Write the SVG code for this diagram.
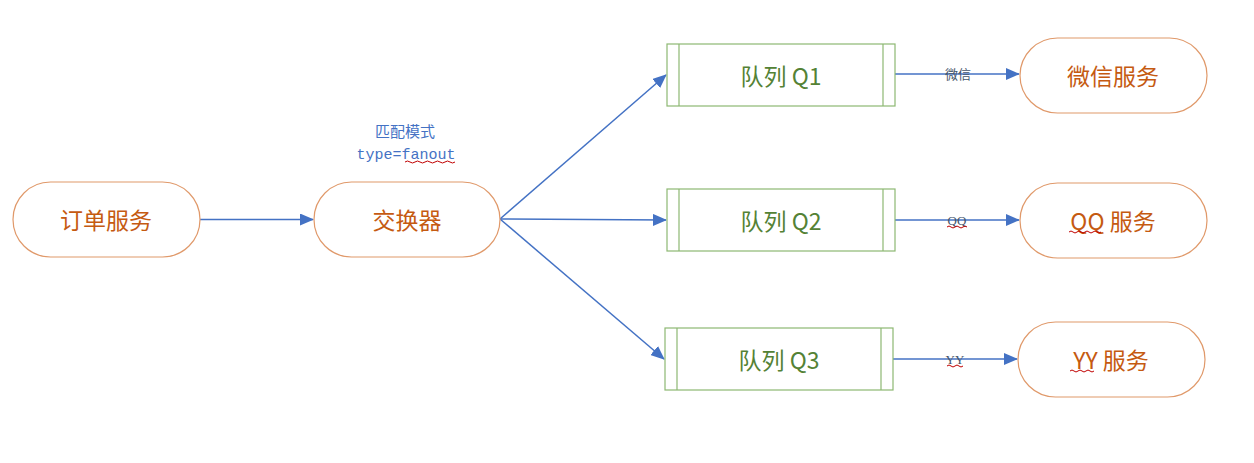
<svg xmlns="http://www.w3.org/2000/svg" width="1254" height="463" viewBox="0 0 1254 463">
<defs>
<style>
.svc{fill:#fff;stroke:#E0996A;stroke-width:1.2}
.svct{fill:#C55A11;font-family:"Noto Sans CJK SC","Noto Sans",sans-serif;font-size:23px;text-anchor:middle;dominant-baseline:central}
.q{fill:#fff;stroke:#8DB872;stroke-width:1.2}
.qt{fill:#548235;font-family:"Noto Sans CJK SC","Noto Sans",sans-serif;font-size:23px;text-anchor:middle;dominant-baseline:central}
.ln{stroke:#4472C4;stroke-width:1.5;fill:none}
.lbl{fill:#44546A;font-family:"Liberation Serif","Noto Sans CJK SC",serif;font-size:13px;text-anchor:middle;dominant-baseline:central}
.ex{fill:#4472C4;font-size:15px;text-anchor:middle}
.wave{stroke:#C00000;stroke-width:1;fill:none}
</style>
<marker id="ah" markerWidth="14" markerHeight="12" refX="13" refY="6" orient="auto" markerUnits="userSpaceOnUse">
<path d="M0,0 L14,6 L0,12 z" fill="#4472C4"/>
</marker>
</defs>
<rect width="1254" height="463" fill="#fff"/>
<g id="connectors">
<line class="ln" x1="200" y1="219.5" x2="313" y2="219.5" marker-end="url(#ah)"/>
<line class="ln" x1="500" y1="219" x2="666" y2="75" marker-end="url(#ah)"/>
<line class="ln" x1="500" y1="219" x2="666" y2="220" marker-end="url(#ah)"/>
<line class="ln" x1="500" y1="219" x2="664" y2="359" marker-end="url(#ah)"/>
<line class="ln" x1="895" y1="74" x2="1019" y2="74" marker-end="url(#ah)"/>
<line class="ln" x1="895" y1="220" x2="1019" y2="220" marker-end="url(#ah)"/>
<line class="ln" x1="893" y1="359" x2="1017" y2="359" marker-end="url(#ah)"/>
<text class="lbl" x="958" y="74">微信</text>
<text class="lbl" x="957" y="220">QQ</text>
<path class="wave" d="M947,227 q2,-2 4,0 t4,0 t4,0 t4,0 t4,0"/>
<text class="lbl" x="955" y="359">YY</text>
<path class="wave" d="M947,366 q2,-2 4,0 t4,0 t4,0 t4,0"/>
<text class="ex" x="405" y="137" font-family="'Noto Sans CJK SC',sans-serif" font-size="16">匹配模式</text>
<text class="ex" x="406" y="159" font-family="'Liberation Mono',monospace">type=fanout</text>
<path class="wave" d="M405,162 q2.5,-2 5,0 t5,0 t5,0 t5,0 t5,0 t5,0 t5,0 t5,0 t5,0 t5,0"/>
</g>
<g id="order"><rect class="svc" x="13" y="182" width="187" height="75" rx="37.5"/><text class="svct" x="106" y="219">订单服务</text></g>
<g id="exchange"><rect class="svc" x="314" y="182" width="186" height="75" rx="37.5"/><text class="svct" x="407" y="219">交换器</text></g>
<g id="q1"><rect class="q" x="667" y="44" width="228" height="62"/><line class="q" x1="679" y1="44" x2="679" y2="106"/><line class="q" x1="883" y1="44" x2="883" y2="106"/><text class="qt" x="781" y="75">队列 Q1</text></g>
<g id="q2"><rect class="q" x="667" y="189" width="228" height="62"/><line class="q" x1="679" y1="189" x2="679" y2="251"/><line class="q" x1="883" y1="189" x2="883" y2="251"/><text class="qt" x="781" y="220">队列 Q2</text></g>
<g id="q3"><rect class="q" x="665" y="328" width="228" height="62"/><line class="q" x1="677" y1="328" x2="677" y2="390"/><line class="q" x1="881" y1="328" x2="881" y2="390"/><text class="qt" x="779" y="359">队列 Q3</text></g>
<g id="wechat"><rect class="svc" x="1020" y="38" width="187" height="75" rx="37.5"/><text class="svct" x="1113" y="75">微信服务</text></g>
<g id="qq"><rect class="svc" x="1020" y="183" width="187" height="75" rx="37.5"/><text class="svct" x="1113" y="220">QQ 服务</text><path class="wave" d="M1069,232 q2,-2 4,0 t4,0 t4,0 t4,0 t4,0 t4,0 t4,0 t4,0"/></g>
<g id="yy"><rect class="svc" x="1018" y="322" width="187" height="75" rx="37.5"/><text class="svct" x="1111" y="359">YY 服务</text><path class="wave" d="M1070,371 q2,-2 4,0 t4,0 t4,0 t4,0 t4,0 t4,0"/></g>
</svg>
